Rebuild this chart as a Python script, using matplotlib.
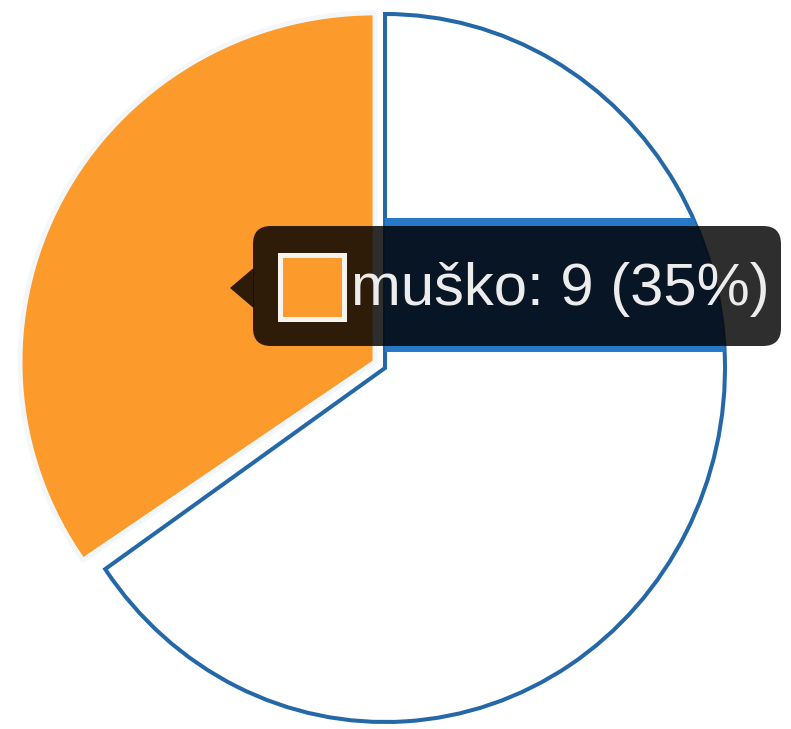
import matplotlib
matplotlib.use("Agg")
import matplotlib.pyplot as plt
from matplotlib.patches import Rectangle, FancyBboxPatch, Polygon
from matplotlib.transforms import Affine2D

# ---- data ----
labels = ["muško", "žensko"]
values = [9, 17]
colors = ["#fc9a2c", "#ffffff"]
hovered = 0

W, H = 791, 729
fig = plt.figure(figsize=(W / 100, H / 100), dpi=100)
fig.patch.set_facecolor("white")

# pie axes (slightly elliptical, as in the reference)
CX, CY, RX, RY = 385, 368, 340, 354
ax_p = fig.add_axes([(CX - RX) / W, (H - CY - RY) / H, 2 * RX / W, 2 * RY / H])
wedges, _ = ax_p.pie(values, startangle=90, counterclock=True, radius=1,
                     center=(0, 0), colors=colors)
ax_p.set_xlim(-1, 1)
ax_p.set_ylim(-1, 1)
ax_p.set_aspect("auto")
ax_p.axis("off")

for w in wedges:
    w.set_clip_on(False)

# non-hovered slice: white with blue border
wedges[1].set(facecolor="white", edgecolor="#2468a8", linewidth=2.9, zorder=1)

# blue band under the tooltip, clipped to the white slice
def px2d(x, y):
    return (x - CX) / RX, (CY - y) / RY

bx0, by0 = px2d(CX, 352)
bx1, by1 = px2d(CX + RX + 20, 218)
band = Rectangle((bx0, by0), bx1 - bx0, by1 - by0, facecolor="#2878c8",
                 edgecolor="none", zorder=1.5)
ax_p.add_patch(band)
band.set_clip_path(wedges[1])

# hovered slice: orange, offset outwards, light border
o = wedges[hovered]
o.set(facecolor=colors[hovered], edgecolor="#f3f7fa", linewidth=3.5, zorder=2)
o.set_transform(Affine2D().scale(1.044, 0.986).translate(-10 / RX, 6 / RY)
                + ax_p.transData)

# overlay axes in pixel coordinates for the tooltip
ax_o = fig.add_axes([0, 0, 1, 1], zorder=5)
ax_o.set_xlim(0, W)
ax_o.set_ylim(H, 0)
ax_o.axis("off")

tip_fc = (0, 0, 0, 0.82)
box = FancyBboxPatch((253, 226), 528, 120,
                     boxstyle="round,pad=0,rounding_size=18",
                     facecolor=tip_fc, edgecolor="none")
ax_o.add_patch(box)
caret = Polygon([(253.5, 268), (230, 288), (253.5, 308)], closed=True,
                facecolor=tip_fc, edgecolor="none")
ax_o.add_patch(caret)

sq = Rectangle((279.5, 254.5), 64, 64, facecolor=colors[hovered],
               edgecolor="#f7f3ee", linewidth=3.6)
ax_o.add_patch(sq)

pct = round(100 * values[hovered] / sum(values))
ax_o.text(351, 305, f"{labels[hovered]}: {values[hovered]} ({pct}%)",
          color="#ececec", fontsize=43, family=["Liberation Sans", "DejaVu Sans"],
          va="baseline", ha="left")

fig.savefig("out.png", dpi=100, facecolor="white")
